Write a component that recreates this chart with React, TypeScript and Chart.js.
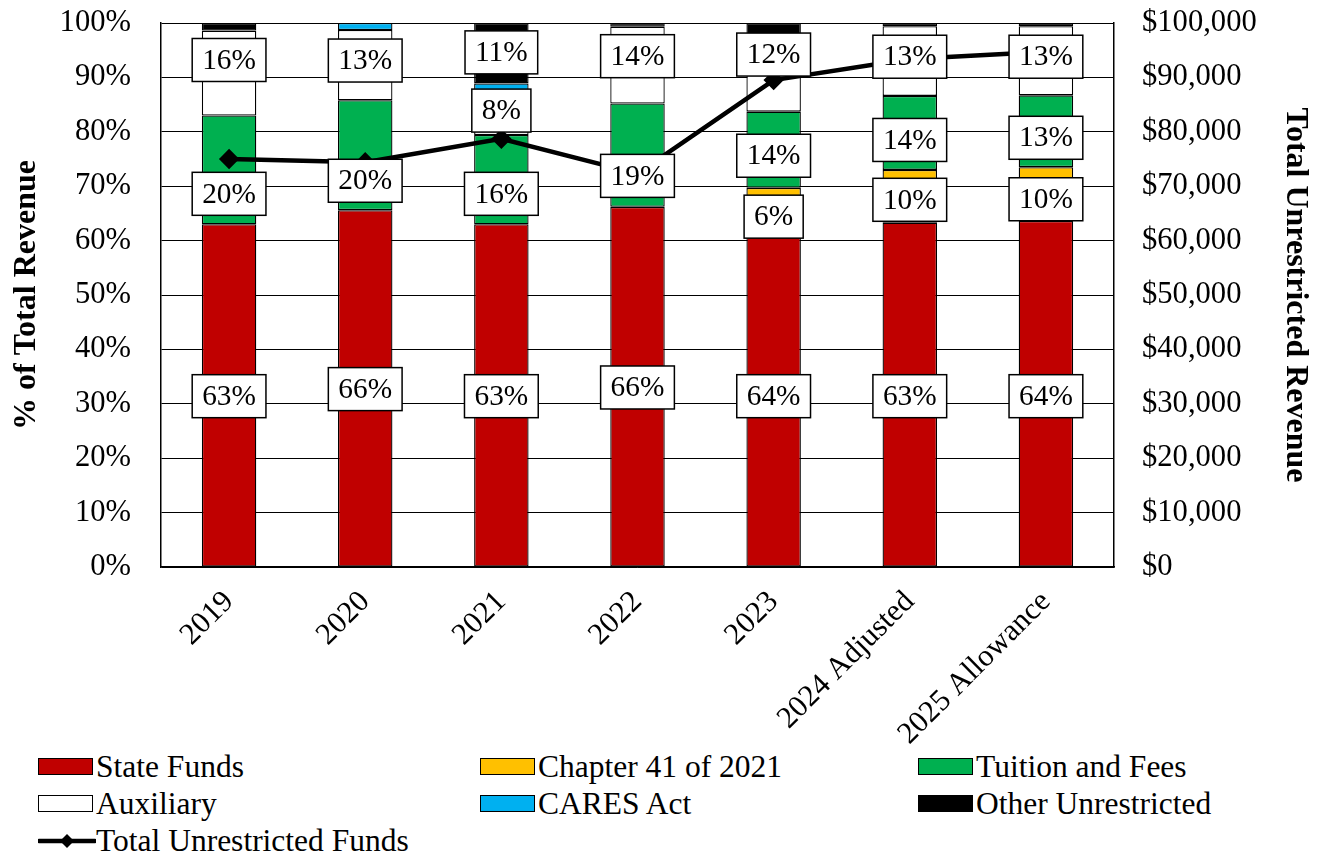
import React, { useEffect, useRef } from 'react';
import { Chart, registerables } from 'chart.js';
Chart.register(...registerables);

const categories = ['2019', '2020', '2021', '2022', '2023', '2024 Adjusted', '2025 Allowance'];
const stateFunds = [63.0, 65.6, 63.0, 66.2, 64.0, 63.3, 63.6];
const chapter41 = [0, 0, 0, 0, 5.7, 9.7, 9.9];
const tuitionFees = [20.0, 20.2, 16.4, 19.0, 14.0, 13.6, 13.2];
const auxiliary = [15.6, 12.9, 8.2, 14.1, 12.0, 12.8, 12.7];
const caresAct = [0, 1.3, 1.3, 0, 0, 0, 0];
const otherUnrestricted = [1.4, 0, 11.1, 0.7, 4.3, 0.6, 0.6];
const totalUnrestricted = [75000, 74400, 78700, 72300, 89500, 93400, 94700];

// Where each data label sits (in % of total revenue), as placed in the original
const stateLabelAt = [31.4, 32.7, 31.4, 33.0, 31.4, 31.4, 31.4];
const chapter41LabelAt = [null, null, null, null, 64.4, 67.5, 67.6];
const tuitionLabelAt = [68.6, 71.0, 68.6, 71.9, 75.6, 78.5, 78.9];
const auxiliaryLabelAt = [93.2, 93.1, 83.9, 93.9, 94.2, 93.8, 93.8];
const otherLabelAt = [null, null, 94.6, null, null, null, null];

const FONT = "'Liberation Serif', 'Times New Roman', serif";
const FS = 29.33;
const TICK_FS = 30.6;
const LEGEND_FS = 31.5;

const legendItems = [
  { label: 'State Funds', color: '#C00000' },
  { label: 'Chapter 41 of 2021', color: '#FFC000' },
  { label: 'Tuition and Fees', color: '#00B050' },
  { label: 'Auxiliary', color: '#FFFFFF' },
  { label: 'CARES Act', color: '#00B0F0' },
  { label: 'Other Unrestricted', color: '#000000' },
];

const labelPlugin = {
  id: 'boxLabels',
  afterDatasetsDraw(chart: any) {
    const ctx = chart.ctx;
    const yScale = chart.scales.y;
    ctx.save();
    ctx.font = `${FS}px ${FONT}`;
    ctx.textAlign = 'center';
    ctx.textBaseline = 'middle';
    chart.data.datasets.forEach((ds: any, di: number) => {
      if (!ds.labelAt) return;
      const meta = chart.getDatasetMeta(di);
      ds.data.forEach((v: number, j: number) => {
        const at = ds.labelAt[j];
        if (v < 5 || at == null) return;
        const x = meta.data[j].x;
        const y = yScale.getPixelForValue(at);
        const text = Math.round(v) + '%';
        const w = ctx.measureText(text).width + 20;
        const h = 43;
        ctx.fillStyle = '#fff';
        ctx.fillRect(x - w / 2, y - h / 2, w, h);
        ctx.lineWidth = 1.5;
        ctx.strokeStyle = '#000';
        ctx.strokeRect(x - w / 2, y - h / 2, w, h);
        ctx.fillStyle = '#000';
        ctx.fillText(text, x, y + 1);
      });
    });
    ctx.restore();
  },
};

function barDs(label: string, data: number[], color: string, labelAt: any) {
  return {
    type: 'bar',
    label,
    data,
    backgroundColor: color,
    borderColor: '#000',
    borderWidth: 1.3,
    borderSkipped: false,
    yAxisID: 'y',
    order: 1,
    labelAt,
    categoryPercentage: 1,
    barPercentage: 0.4,
  };
}

export default function App() {
  const ref = useRef<HTMLCanvasElement>(null);
  useEffect(() => {
    const chart = new Chart(ref.current as HTMLCanvasElement, {
      type: 'bar',
      data: {
        labels: categories,
        datasets: [
          {
            type: 'line',
            label: 'Total Unrestricted Funds',
            data: totalUnrestricted,
            yAxisID: 'y2',
            borderColor: '#000',
            backgroundColor: '#000',
            borderWidth: 4.5,
            pointStyle: 'rectRot',
            pointRadius: 7,
            pointBackgroundColor: '#000',
            pointBorderColor: '#000',
            order: 0,
          } as any,
          barDs('State Funds', stateFunds, '#C00000', stateLabelAt),
          barDs('Chapter 41 of 2021', chapter41, '#FFC000', chapter41LabelAt),
          barDs('Tuition and Fees', tuitionFees, '#00B050', tuitionLabelAt),
          barDs('Auxiliary', auxiliary, '#FFFFFF', auxiliaryLabelAt),
          barDs('CARES Act', caresAct, '#00B0F0', null),
          barDs('Other Unrestricted', otherUnrestricted, '#000000', otherLabelAt),
        ] as any,
      },
      options: {
        animation: false,
        responsive: false,
        layout: { padding: { top: 15, left: 0, right: 0, bottom: 0 } },
        plugins: { legend: { display: false }, tooltip: { enabled: false } },
        scales: {
          x: {
            stacked: true,
            grid: { display: false, drawTicks: false },
            border: { color: '#000', width: 1.5 },
            ticks: {
              color: '#000',
              font: { family: FONT, size: TICK_FS },
              minRotation: 45,
              maxRotation: 45,
              padding: 17,
              autoSkip: false,
            },
            afterFit: (s: any) => {
              s.height = 181;
              s.paddingLeft = 0;
              s.paddingRight = 0;
            },
          },
          y: {
            stacked: true,
            min: 0,
            max: 100,
            position: 'left',
            grid: { color: '#000', lineWidth: 1, drawTicks: false },
            border: { color: '#000', width: 1.5 },
            ticks: {
              stepSize: 10,
              color: '#000',
              padding: 30,
              font: { family: FONT, size: TICK_FS },
              callback: (v: any) => v + '%',
            },
            title: {
              display: true,
              text: '% of Total Revenue',
              color: '#000',
              padding: 0,
              font: { family: FONT, size: 32, weight: 'bold' },
            },
            afterFit: (s: any) => {
              s.width = 153;
              s.paddingTop = 0;
              s.paddingBottom = 0;
            },
          },
          y2: {
            min: 0,
            max: 100000,
            position: 'right',
            grid: { drawOnChartArea: false, drawTicks: false },
            border: { color: '#000', width: 1.5 },
            ticks: {
              stepSize: 10000,
              color: '#000',
              padding: 28,
              font: { family: FONT, size: TICK_FS },
              callback: (v: any) => '$' + Number(v).toLocaleString('en-US'),
            },
            title: {
              display: true,
              text: 'Total Unrestricted Revenue',
              color: '#000',
              padding: 0,
              font: { family: FONT, size: 32, weight: 'bold' },
            },
            afterFit: (s: any) => {
              s.width = 200;
              s.paddingTop = 0;
              s.paddingBottom = 0;
            },
          },
        },
      } as any,
      plugins: [labelPlugin],
    });
    return () => chart.destroy();
  }, []);

  const swatch = (color: string) => (
    <span
      style={{
        display: 'inline-block',
        width: 55,
        height: 17,
        background: color,
        border: '1.5px solid #000',
        boxSizing: 'border-box',
        marginRight: 3,
      }}
    />
  );

  return (
    <div style={{ width: 1306, fontFamily: FONT }}>
      <canvas ref={ref} width={1306} height={740} style={{ display: 'block' }} />
      <div
        style={{
          display: 'grid',
          gridTemplateColumns: '442px 438px auto',
          paddingLeft: 30,
          fontSize: LEGEND_FS,
          lineHeight: '37px',
          color: '#000',
        }}
      >
        {legendItems.map((it) => (
          <div key={it.label} style={{ display: 'flex', alignItems: 'center', height: 37, whiteSpace: 'nowrap' }}>
            {swatch(it.color)}
            <span>{it.label}</span>
          </div>
        ))}
        <div style={{ display: 'flex', alignItems: 'center', height: 37, whiteSpace: 'nowrap' }}>
          <svg width={58} height={20} style={{ marginRight: 0 }}>
            <line x1={1} y1={10} x2={57} y2={10} stroke="#000" strokeWidth={4.5} strokeLinecap="round" />
            <polygon points="29,3 36,10 29,17 22,10" fill="#000" />
          </svg>
          <span>Total Unrestricted Funds</span>
        </div>
      </div>
    </div>
  );
}
